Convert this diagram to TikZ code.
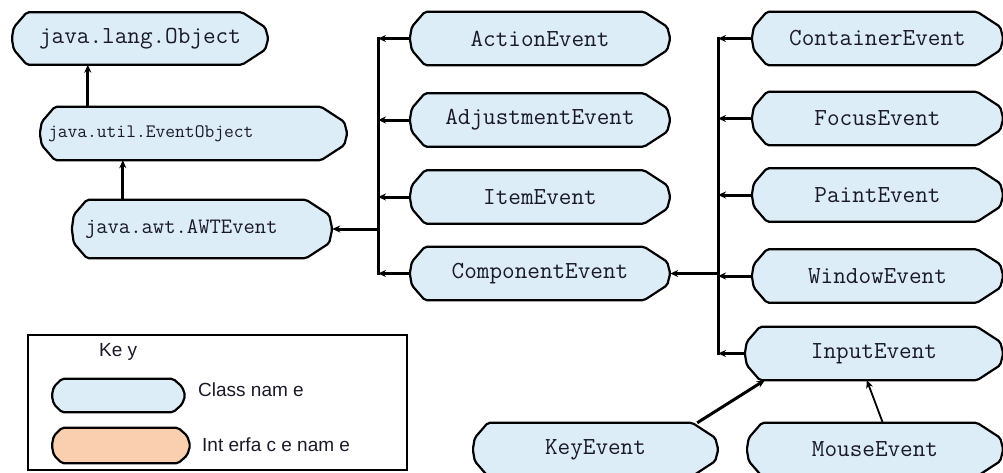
\documentclass[tikz,border=0pt]{standalone}
\usepackage{fontspec}
\setmainfont{Liberation Sans}
\usetikzlibrary{backgrounds,calc,arrows.meta}
\definecolor{clsfill}{RGB}{221,237,248}
\definecolor{intfill}{RGB}{250,207,176}
\definecolor{txt}{RGB}{25,25,40}
\tikzset{
  cls/.style={rectangle, inner sep=0pt, font=\ttfamily\fontsize{24.5}{26}\selectfont, text=txt},
  outline/.style={draw=black, line width=2.2pt, rounded corners=2pt},
  link/.style={draw=black, line width=3pt},
  thinlink/.style={draw=black, line width=1.8pt},
  tip/.style={-{Stealth[length=8pt,width=7pt]}},
  keytext/.style={font=\fontsize{19}{21}\selectfont, text=txt, inner sep=0pt},
}
% #1 node, #2 fill, #3 left chamfer width, #4 right chamfer width, #5 chamfer height
\newcommand\shapeof[5]{%
  \filldraw[outline, fill=#2]
    ($(#1.north west)+(#3,0)$) -- ($(#1.north east)+(-#4,0)$) -- ($(#1.north east)+(-3,#5)$)
    -- (#1.east) -- ($(#1.south east)+(-3,-#5)$) -- ($(#1.south east)+(-#4,0)$)
    -- ($(#1.south west)+(#3,0)$) -- ($(#1.south west)+(2,-#5)$) -- (#1.west)
    -- ($(#1.north west)+(2,#5)$) -- cycle;}
\begin{document}
\begin{tikzpicture}[x=1pt,y=-1pt]
\useasboundingbox (0,0) rectangle (1003,472);
% left column
\node[cls, minimum width=256pt, minimum height=52pt] (obj) at (140,38.5) {java.lang.Object};
\node[cls, minimum width=307pt, minimum height=53pt, inner xsep=8pt, text width=291pt, align=left,
      font=\ttfamily\fontsize{19}{21}\selectfont] (evo) at (193.5,133.5) {java.util.EventObject};
\node[cls, minimum width=260pt, minimum height=58pt, inner xsep=13pt, text width=234pt, align=left,
      font=\ttfamily\fontsize{22}{24}\selectfont] (awt) at (202,229) {java.awt.AWTEvent};
% middle column
\node[cls, minimum width=260pt, minimum height=53pt] (act) at (540,38.5) {ActionEvent};
\node[cls, minimum width=260pt, minimum height=53pt] (adj) at (540,120) {AdjustmentEvent};
\node[cls, minimum width=260pt, minimum height=53pt] (item) at (540,197) {ItemEvent};
\node[cls, minimum width=260pt, minimum height=53pt] (comp) at (540,273.5) {ComponentEvent};
% right column
\node[cls, minimum width=251pt, minimum height=53pt] (cont) at (877.5,38.5) {ContainerEvent};
\node[cls, minimum width=251pt, minimum height=53pt] (foc) at (877.5,118.5) {FocusEvent};
\node[cls, minimum width=251pt, minimum height=53pt] (pnt) at (877.5,195) {PaintEvent};
\node[cls, minimum width=251pt, minimum height=53pt] (win) at (877.5,276) {WindowEvent};
\node[cls, minimum width=258pt, minimum height=53pt] (inp) at (874,353.5) {InputEvent};
% bottom row
\node[cls, minimum width=245pt, minimum height=53pt] (key) at (595.5,449.5) {KeyEvent};
\node[cls, minimum width=256pt, minimum height=53pt] (mouse) at (875,449.5) {MouseEvent};
% legend
\node[keytext, anchor=west] (keyt) at (99,352) {Ke y};
\node[cls, minimum width=133pt, minimum height=33pt] (kcls) at (118.5,395.5) {};
\node[cls, minimum width=138pt, minimum height=35pt] (kint) at (121,445.5) {};
\node[keytext, anchor=west] (kclst) at (198,390) {Class nam e};
\node[keytext, anchor=west] (kintt) at (202,445) {Int erfa c e nam e};
\begin{scope}[on background layer]
  \draw[draw=black, line width=2.5pt] (28,335) rectangle (407,470);
  \foreach \n in {obj,evo,awt,act,adj,item,comp,cont,foc,pnt,win,inp,key,mouse}{\shapeof{\n}{clsfill}{15}{26}{15}}
  \shapeof{kcls}{clsfill}{10}{12}{8}
  \shapeof{kint}{intfill}{10}{12}{8}
\end{scope}
% bus coordinates
\coordinate (b1) at (378,0);
\coordinate (b2) at (718,0);
% inheritance: left column
\draw[link, tip] ([xshift=48pt]evo.north west) -- ([xshift=48pt]evo.north west |- obj.south);
\draw[link, tip] ([xshift=51pt]awt.north west) -- ([xshift=51pt]awt.north west |- evo.south);
% bus 1
\draw[link, line cap=rect] (act.west -| b1) -- (comp.west -| b1);
\draw[link, tip] (awt.east -| b1) -- (awt.east);
\foreach \n in {act,adj,item,comp}{\draw[link, tip] (\n.west) -- (\n.west -| b1);}
% bus 2
\draw[link, line cap=rect] (cont.west -| b2) -- (inp.west -| b2);
\draw[link, tip] (comp.east -| b2) -- (comp.east);
\foreach \n in {cont,foc,pnt,win,inp}{\draw[link, tip] (\n.west) -- (\n.west -| b2);}
% bottom
\draw[link, tip] ([xshift=-21pt]key.north east) -- ([xshift=20pt]inp.south west);
\draw[thinlink, tip] ([xshift=136pt]mouse.north west) -- ([xshift=122pt]inp.south west);
\end{tikzpicture}
\end{document}
